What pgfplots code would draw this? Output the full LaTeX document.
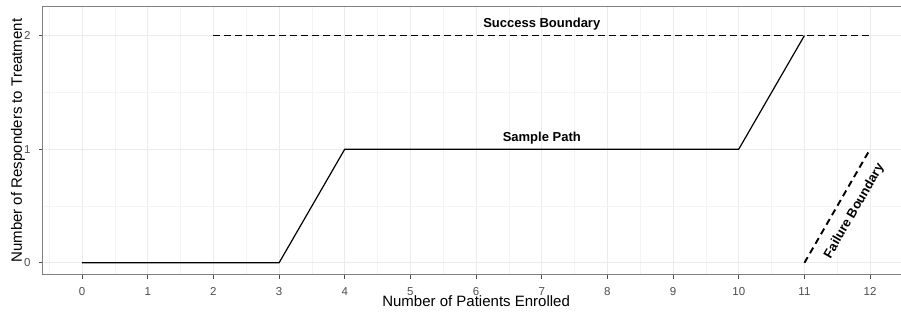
\documentclass[border=0pt]{standalone}
\usepackage{fontspec}
\setmainfont{Liberation Sans}
\usepackage{pgfplots}
\pgfplotsset{compat=1.18}
\definecolor{gridmajor}{HTML}{EBEBEB}
\definecolor{gridminor}{HTML}{F4F4F4}
\definecolor{tickgray}{HTML}{4D4D4D}
\definecolor{bordergray}{HTML}{7F7F7F}
\begin{document}
\begin{tikzpicture}[x=1pt,y=1pt]
\path[use as bounding box, clip] (0,0) rectangle (901,312);
\begin{axis}[
  at={(42.7pt,37pt)}, anchor=south west,
  scale only axis, width=866.8pt, height=268.7pt,
  xmin=-0.6, xmax=12.6, ymin=-0.1075, ymax=2.2575,
  xtick={0,1,2,3,4,5,6,7,8,9,10,11,12}, ytick={0,1,2},
  minor xtick={-0.5,0.5,1.5,2.5,3.5,4.5,5.5,6.5,7.5,8.5,9.5,10.5,11.5,12.5},
  minor ytick={0.5,1.5},
  grid=both,
  major grid style={draw=gridmajor, line width=1pt},
  minor grid style={draw=gridminor, line width=0.6pt},
  axis line style={draw=bordergray, line width=1pt},
  tick align=outside, major tick length=3.7pt, minor tick length=0pt,
  xtick pos=left, ytick pos=left,
  major tick style={draw=tickgray, line width=1pt},
  /pgf/number format/assume math mode=true,
  tick label style={font=\fontsize{11.5}{12}\selectfont, text=tickgray},
  xticklabel style={anchor=center, inner sep=0pt, yshift=-13pt},
  yticklabel style={anchor=east, inner sep=0pt, xshift=-8.4pt},
  xlabel={Number of Patients Enrolled},
  ylabel={Number of Responders to Treatment},
  label style={font=\fontsize{15}{16}\selectfont},
  xlabel style={at={(axis description cs:0.5,-0.098)}, anchor=center, inner sep=0pt},
  ylabel style={at={(axis description cs:-0.0285,0.5)}, anchor=center, inner sep=0pt},
  clip=false,
]
% Sample path
\addplot[black, line width=1.2pt, line join=round] coordinates {(0,0) (3,0) (4,1) (10,1) (11,2)};
% Success boundary
\addplot[black, line width=1.9pt, dash pattern=on 6.5pt off 4.5pt] coordinates {(2,2) (12,2)};
% Failure boundary
\addplot[black, line width=1.9pt, dash pattern=on 6.5pt off 4.5pt] coordinates {(11,0) (12,1)};
\node[font=\bfseries\fontsize{13}{14}\selectfont] at (axis cs:7,2.1) {Success Boundary};
\node[font=\bfseries\fontsize{13}{14}\selectfont] at (axis cs:7,1.1) {Sample Path};
\node[font=\bfseries\fontsize{13}{14}\selectfont, rotate=60] at (axis cs:11.76,0.455) {Failure Boundary};
\end{axis}
\end{tikzpicture}
\end{document}
